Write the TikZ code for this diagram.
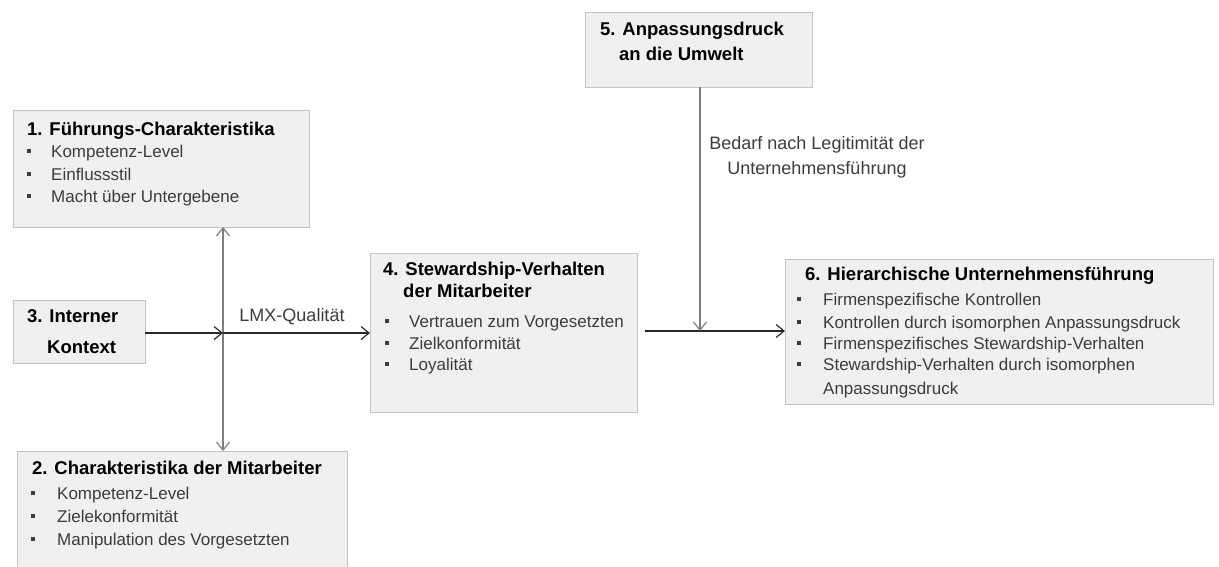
\documentclass[tikz,border=0pt]{standalone}
\usepackage{fontspec}
\setmainfont{Liberation Sans}
\usetikzlibrary{arrows.meta}
\definecolor{boxfill}{RGB}{240,240,240}
\definecolor{boxline}{RGB}{196,196,196}
\definecolor{txtgray}{RGB}{60,60,60}
\definecolor{lngray}{RGB}{125,125,125}
\definecolor{lndark}{RGB}{40,40,40}
\newcommand{\bx}{\makebox[24pt][l]{\rule[0.3em]{3.5pt}{3.5pt}}}
\tikzset{
  box/.style={draw=boxline, line width=1pt, fill=boxfill, inner sep=0pt, outer sep=0pt, anchor=north west},
  ttl/.style={font=\fontsize{18.5}{22}\selectfont\bfseries, anchor=west, inner sep=0pt, text=black, text height=0.72em, text depth=0.2em},
  itm/.style={font=\fontsize{17}{22}\selectfont, anchor=west, inner sep=0pt, text=txtgray, text height=0.72em, text depth=0.2em},
  lbl/.style={font=\fontsize{18}{25}\selectfont, inner sep=0pt, text=txtgray},
  tipv/.style={-{Straight Barb[length=8pt,width=13pt,line width=1.2pt]}},
  darkln/.style={draw=lndark, line width=1.4pt},
  grayln/.style={draw=lngray, line width=1.6pt}
}
\begin{document}
\begin{tikzpicture}[x=1pt,y=-1pt]
\useasboundingbox (0,0) rectangle (1219,566);
% boxes
\node[box, minimum width=296pt, minimum height=117pt] (b1) at (13,110) {};
\node[box, minimum width=132pt, minimum height=63pt] (b3) at (13,300) {};
\node[box, minimum width=330pt, minimum height=120pt] (b2) at (17,451) {};
\node[box, minimum width=267pt, minimum height=159pt] (b4) at (370,253) {};
\node[box, minimum width=227pt, minimum height=75pt] (b5) at (585,12) {};
\node[box, minimum width=428pt, minimum height=145pt] (b6) at (785,259) {};
% box 1 text
\node[ttl] (t1) at (27,133) {1. Führungs-Charakteristika};
\node[itm] (t1a) at (27,155) {\bx Kompetenz-Level};
\node[itm] (t1b) at (27,178) {\bx Einflussstil};
\node[itm] (t1c) at (27,200) {\bx Macht über Untergebene};
% box 3 text
\node[ttl] (t3a) at (27,320) {3. Interner};
\node[ttl] (t3b) at (47,351) {Kontext};
% box 2 text
\node[ttl] (t2) at (32,472) {2. Charakteristika der Mitarbeiter};
\node[itm] (t2a) at (31,497) {\makebox[26pt][l]{\rule[0.3em]{3.5pt}{3.5pt}}Kompetenz-Level};
\node[itm] (t2b) at (31,520) {\makebox[26pt][l]{\rule[0.3em]{3.5pt}{3.5pt}}Zielekonformität};
\node[itm] (t2c) at (31,543) {\makebox[26pt][l]{\rule[0.3em]{3.5pt}{3.5pt}}Manipulation des Vorgesetzten};
% box 4 text
\node[ttl] (t4a) at (383,273) {4. Stewardship-Verhalten};
\node[ttl] (t4b) at (403,295) {der Mitarbeiter};
\node[itm] (t4c) at (385,325) {\bx Vertrauen zum Vorgesetzten};
\node[itm] (t4d) at (385,347) {\bx Zielkonformität};
\node[itm] (t4e) at (385,368) {\bx Loyalität};
% box 5 text
\node[ttl] (t5a) at (600,33) {5. Anpassungsdruck};
\node[ttl] (t5b) at (619,58) {an die Umwelt};
% box 6 text
\node[ttl] (t6) at (805,278) {6. Hierarchische Unternehmensführung};
\node[itm] (t6a) at (797,303) {\makebox[26pt][l]{\rule[0.3em]{3.5pt}{3.5pt}}Firmenspezifische Kontrollen};
\node[itm] (t6b) at (797,326) {\makebox[26pt][l]{\rule[0.3em]{3.5pt}{3.5pt}}Kontrollen durch isomorphen Anpassungsdruck};
\node[itm] (t6c) at (797,347) {\makebox[26pt][l]{\rule[0.3em]{3.5pt}{3.5pt}}Firmenspezifisches Stewardship-Verhalten};
\node[itm] (t6d) at (797,368) {\makebox[26pt][l]{\rule[0.3em]{3.5pt}{3.5pt}}Stewardship-Verhalten  durch isomorphen};
\node[itm] (t6e) at (823,392) {Anpassungsdruck};
% labels
\node[lbl] (lmx) at (292,317) {LMX-Qualität};
\node[lbl, align=center] (bed) at (817,157) {Bedarf nach Legitimität der\\Unternehmensführung};
% connectors
\coordinate (j1) at (223,333);
\coordinate (j2) at (700,331);
\draw[grayln, {Straight Barb[length=8pt,width=13pt,line width=1.2pt]}-{Straight Barb[length=8pt,width=13pt,line width=1.2pt]}] (b1.south -| j1) -- (b2.north -| j1);
\draw[darkln, tipv] (b3.east |- j1) -- (j1);
\draw[darkln, tipv] (j1) -- (j1 -| b4.west);
\draw[darkln, tipv, shorten <=8pt] (j2 -| b4.east) -- (j2 -| b6.west);
\draw[grayln, tipv] (b5.south -| j2) -- (j2);
\end{tikzpicture}
\end{document}
